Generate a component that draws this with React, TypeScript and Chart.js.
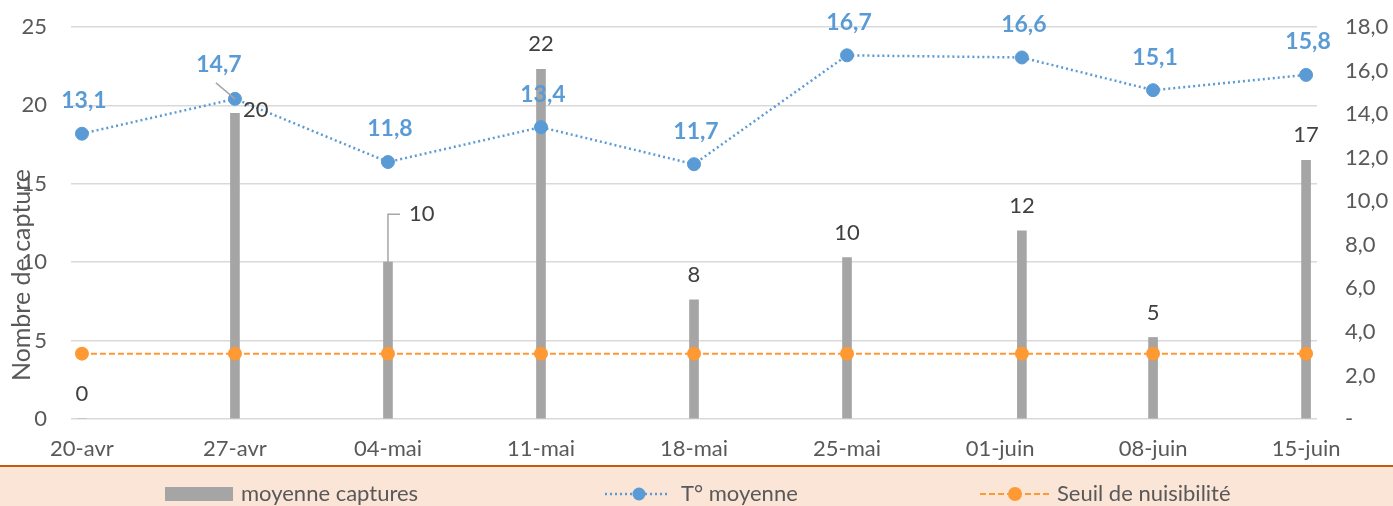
import React, { useEffect, useRef } from 'react';
import { Chart, registerables } from 'chart.js';

Chart.register(...registerables);

// ---- data ----
const TICK_DAYS = [0, 7, 14, 21, 28, 35, 42, 49, 56];
const TICK_LABELS = ['20-avr', '27-avr', '04-mai', '11-mai', '18-mai', '25-mai', '01-juin', '08-juin', '15-juin'];
const SAMPLE_DAYS = [0, 7, 14, 21, 28, 35, 43, 49, 56];
const CAPTURES = [0, 19.5, 10, 22.3, 7.6, 10.3, 12, 5.2, 16.5];
const TEMPERATURES = [13.1, 14.7, 11.8, 13.4, 11.7, 16.7, 16.6, 15.1, 15.8];
const THRESHOLD = [3, 3, 3, 3, 3, 3, 3, 3, 3];
const SERIES_NAMES = ['moyenne captures', 'T° moyenne', 'Seuil de nuisibilité'];
const Y_TITLE = 'Nombre de capture';

// ---- styles ----
const FONT = 'Lato';
const GREY_BAR = '#A5A5A5';
const BLUE = '#5B9BD5';
const ORANGE = '#FF9933';
const TEXT = '#595959';
const LABEL = '#404040';
const GRID = '#D9D9D9';
const LEADER = '#A6A6A6';

// manual label placements (Excel-style moved labels)
const BAR_LABEL_MOVES: Record<number, { dx: number; dy: number; align: CanvasTextAlign; leader?: boolean }> = {
  1: { dx: 8, dy: -3, align: 'left' },
  2: { dx: 21, dy: -48, align: 'left', leader: true },
};
const TEMP_LABEL_MOVES: Record<number, { dx: number; dy: number; leader?: boolean }> = {
  1: { dx: -16, dy: -34, leader: true },
};

const fmtComma = (v: number) => v.toFixed(1).replace('.', ',');

const labelsPlugin = {
  id: 'customLabels',
  afterDatasetsDraw(chart: any) {
    const ctx = chart.ctx as CanvasRenderingContext2D;
    ctx.save();
    // bar labels
    const barMeta = chart.getDatasetMeta(0);
    ctx.font = `22px ${FONT}`;
    ctx.fillStyle = LABEL;
    ctx.textBaseline = 'middle';
    barMeta.data.forEach((el: any, i: number) => {
      const text = Math.round(CAPTURES[i]).toString();
      const mv = BAR_LABEL_MOVES[i];
      if (mv) {
        const tx = el.x + mv.dx;
        const ty = el.y + mv.dy;
        if (mv.leader) {
          ctx.strokeStyle = LEADER;
          ctx.lineWidth = 1.5;
          ctx.beginPath();
          ctx.moveTo(el.x, el.y);
          ctx.lineTo(el.x, ty);
          ctx.lineTo(tx - 9, ty);
          ctx.stroke();
        }
        ctx.textAlign = mv.align;
        ctx.fillText(text, tx, ty);
      } else {
        ctx.textAlign = 'center';
        ctx.fillText(text, el.x, el.y - 25);
      }
    });
    // temperature labels
    const tMeta = chart.getDatasetMeta(1);
    ctx.font = `bold 23px ${FONT}`;
    ctx.fillStyle = BLUE;
    ctx.textAlign = 'center';
    tMeta.data.forEach((el: any, i: number) => {
      const text = fmtComma(TEMPERATURES[i]);
      const mv = TEMP_LABEL_MOVES[i];
      if (mv) {
        const tx = el.x + mv.dx;
        const ty = el.y + mv.dy;
        if (mv.leader) {
          ctx.strokeStyle = LEADER;
          ctx.lineWidth = 1.5;
          ctx.beginPath();
          ctx.moveTo(tx - 3, ty + 18);
          ctx.lineTo(el.x, el.y);
          ctx.stroke();
        }
        ctx.fillText(text, tx, ty);
      } else {
        ctx.fillText(text, el.x + 2, el.y - 33);
      }
    });
    ctx.restore();
  },
  afterDraw(chart: any) {
    const ctx = chart.ctx as CanvasRenderingContext2D;
    ctx.save();
    // y-axis title
    ctx.translate(22, 275);
    ctx.rotate(-Math.PI / 2);
    ctx.font = `25px ${FONT}`;
    ctx.fillStyle = TEXT;
    ctx.textAlign = 'center';
    ctx.textBaseline = 'middle';
    ctx.fillText(Y_TITLE, 0, 0);
    ctx.restore();

    // legend band
    ctx.save();
    const W = chart.width;
    ctx.fillStyle = '#FBE5D6';
    ctx.fillRect(0, 467, W, 39);
    ctx.fillStyle = '#C55A11';
    ctx.fillRect(0, 465, W, 2);
    const ly = 494;
    ctx.font = `22px ${FONT}`;
    ctx.fillStyle = TEXT;
    ctx.textBaseline = 'middle';
    ctx.textAlign = 'left';
    // item 1
    ctx.fillStyle = GREY_BAR;
    ctx.fillRect(165, 487, 68, 14);
    ctx.fillStyle = TEXT;
    ctx.fillText(SERIES_NAMES[0], 241, ly);
    // item 2
    ctx.strokeStyle = BLUE;
    ctx.lineWidth = 2.5;
    ctx.setLineDash([2, 3]);
    ctx.beginPath();
    ctx.moveTo(605, ly);
    ctx.lineTo(669, ly);
    ctx.stroke();
    ctx.setLineDash([]);
    ctx.fillStyle = BLUE;
    ctx.beginPath();
    ctx.arc(639, ly, 6.5, 0, Math.PI * 2);
    ctx.fill();
    ctx.fillStyle = TEXT;
    ctx.fillText(SERIES_NAMES[1], 681, ly);
    // item 3
    ctx.strokeStyle = ORANGE;
    ctx.lineWidth = 2;
    ctx.setLineDash([6, 3]);
    ctx.beginPath();
    ctx.moveTo(980, ly);
    ctx.lineTo(1052, ly);
    ctx.stroke();
    ctx.setLineDash([]);
    ctx.fillStyle = ORANGE;
    ctx.beginPath();
    ctx.arc(1015, ly, 7, 0, Math.PI * 2);
    ctx.fill();
    ctx.fillStyle = TEXT;
    ctx.fillText(SERIES_NAMES[2], 1057, ly);
    ctx.restore();
  },
};

export default function App() {
  const ref = useRef<HTMLCanvasElement | null>(null);
  useEffect(() => {
    if (!ref.current) return;
    Chart.defaults.font.family = FONT;
    const chart = new Chart(ref.current, {
      type: 'bar',
      data: {
        datasets: [
          {
            type: 'bar',
            label: SERIES_NAMES[0],
            data: SAMPLE_DAYS.map((d, i) => ({ x: d, y: CAPTURES[i] })),
            backgroundColor: GREY_BAR,
            barThickness: 9,
            yAxisID: 'y',
            order: 3,
          } as any,
          {
            type: 'line',
            label: SERIES_NAMES[1],
            data: SAMPLE_DAYS.map((d, i) => ({ x: d, y: TEMPERATURES[i] })),
            borderColor: BLUE,
            backgroundColor: BLUE,
            borderWidth: 2.5,
            borderDash: [2, 3],
            pointRadius: 6.5,
            pointBorderWidth: 1,
            pointBackgroundColor: BLUE,
            pointBorderColor: BLUE,
            yAxisID: 'y1',
            order: 1,
          } as any,
          {
            type: 'line',
            label: SERIES_NAMES[2],
            data: SAMPLE_DAYS.map((d, i) => ({ x: d, y: THRESHOLD[i] })),
            borderColor: ORANGE,
            backgroundColor: ORANGE,
            borderWidth: 2,
            borderDash: [6, 3],
            pointRadius: 7,
            pointBorderWidth: 0,
            pointBackgroundColor: ORANGE,
            yAxisID: 'y1',
            order: 2,
          } as any,
        ],
      },
      options: {
        animation: false,
        responsive: true,
        maintainAspectRatio: false,
        events: [],
        layout: { padding: { top: 27, left: 0, right: 0, bottom: 0 } },
        plugins: { legend: { display: false }, tooltip: { enabled: false } },
        scales: {
          x: {
            type: 'linear',
            offset: false,
            min: -0.5,
            max: 56.5,
            afterBuildTicks: (scale: any) => {
              scale.ticks = TICK_DAYS.map((v) => ({ value: v }));
            },
            afterFit: (scale: any) => {
              scale.height = 87;
              scale.paddingLeft = 0;
              scale.paddingRight = 0;
            },
            ticks: {
              autoSkip: false,
              maxRotation: 0,
              padding: 17,
              color: TEXT,
              font: { size: 22, family: FONT },
              callback: (v: any) => {
                const idx = TICK_DAYS.indexOf(Number(v));
                return idx >= 0 ? TICK_LABELS[idx] : '';
              },
            },
            grid: { display: false, drawTicks: false, offset: false },
            border: { display: false },
          },
          y: {
            position: 'left',
            min: 0,
            max: 25,
            afterFit: (scale: any) => {
              scale.width = 71;
              scale.paddingTop = 0;
              scale.paddingBottom = 0;
            },
            ticks: {
              stepSize: 5,
              padding: 24,
              color: TEXT,
              font: { size: 22, family: FONT },
            },
            grid: { color: GRID, lineWidth: 1.5, drawTicks: false },
            border: { display: false },
          },
          y1: {
            position: 'right',
            min: 0,
            max: 18,
            afterFit: (scale: any) => {
              scale.width = 76;
              scale.paddingTop = 0;
              scale.paddingBottom = 0;
            },
            ticks: {
              stepSize: 2,
              padding: 28,
              color: TEXT,
              font: { size: 22, family: FONT },
              callback: (v: any) => (Number(v) === 0 ? '-' : fmtComma(Number(v))),
            },
            grid: { display: false, drawTicks: false },
            border: { display: false },
          },
        },
      } as any,
      plugins: [labelsPlugin],
    });
    return () => chart.destroy();
  }, []);

  return (
    <div style={{ position: 'absolute', left: 0, top: 0, width: 1393, height: 506, background: '#fff' }}>
      <canvas ref={ref} />
    </div>
  );
}
